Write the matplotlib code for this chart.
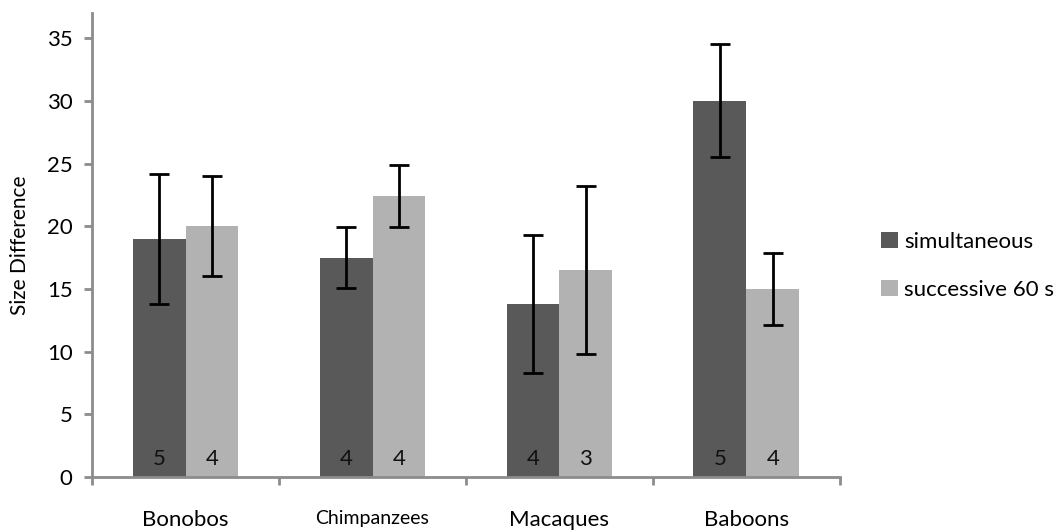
import numpy as np
import matplotlib
matplotlib.use('Agg')
import matplotlib.pyplot as plt

plt.rcParams['font.family'] = ['Lato', 'DejaVu Sans']

# group means, error half-widths and sample sizes
species = ['Bonobos', 'Chimpanzees', 'Macaques', 'Baboons']
simultaneous = [19.0, 17.5, 13.8, 30.0]
simultaneous_err = [5.2, 2.45, 5.5, 4.5]
simultaneous_n = [5, 4, 4, 5]
successive = [20.0, 22.4, 16.5, 15.0]
successive_err = [4.0, 2.5, 6.7, 2.85]
successive_n = [4, 4, 3, 4]

dark = '#595959'
light = '#b2b2b2'
axis_grey = '#8c8c8c'

fig = plt.figure(figsize=(10.59, 5.32), dpi=100)
ax = fig.add_axes([0.087, 0.1034, 0.706, 0.872])

x = np.arange(len(species))
w = 0.283

ax.bar(x - w/2, simultaneous, w, color=dark, label='simultaneous', zorder=2)
ax.bar(x + w/2, successive, w, color=light, label='successive 60 s', zorder=2)
ax.errorbar(x - w/2, simultaneous, yerr=simultaneous_err, fmt='none', ecolor='black',
            elinewidth=2, capsize=7, capthick=2, zorder=3)
ax.errorbar(x + w/2, successive, yerr=successive_err, fmt='none', ecolor='black',
            elinewidth=2, capsize=7, capthick=2, zorder=3)

# sample sizes written at the foot of each bar
for i in range(len(species)):
    ax.text(x[i] - w/2, 0.6, str(simultaneous_n[i]), ha='center', va='bottom', fontsize=16, color='#111111', zorder=4)
    ax.text(x[i] + w/2, 0.6, str(successive_n[i]), ha='center', va='bottom', fontsize=16, color='#111111', zorder=4)

ax.set_xlim(-0.5, len(species) - 0.5)
ax.set_ylim(0, 37)
ax.set_yticks(range(0, 36, 5))
ax.set_xticks(x)
ax.set_xticklabels(species, fontsize=16)
ax.get_xticklabels()[1].set_fontsize(14)
ax.set_xticks(np.arange(len(species) + 1) - 0.5, minor=True)
ax.tick_params(axis='x', which='major', length=0, pad=24)
ax.tick_params(axis='x', which='minor', length=6, width=2, color=axis_grey)
ax.tick_params(axis='y', length=6, width=2, color=axis_grey, labelsize=16, pad=8)
ax.set_ylabel('Size Difference', fontsize=15, labelpad=12)

for s in ['top', 'right']:
    ax.spines[s].set_visible(False)
for s in ['left', 'bottom']:
    ax.spines[s].set_color(axis_grey)
    ax.spines[s].set_linewidth(2)

ax.legend(loc='center left', bbox_to_anchor=(1.055, 0.455), frameon=False, fontsize=16,
          handlelength=0.75, handleheight=0.75, handletextpad=0.3, labelspacing=1.25,
          borderpad=0, borderaxespad=0)

fig.savefig('out.png', dpi=100)
